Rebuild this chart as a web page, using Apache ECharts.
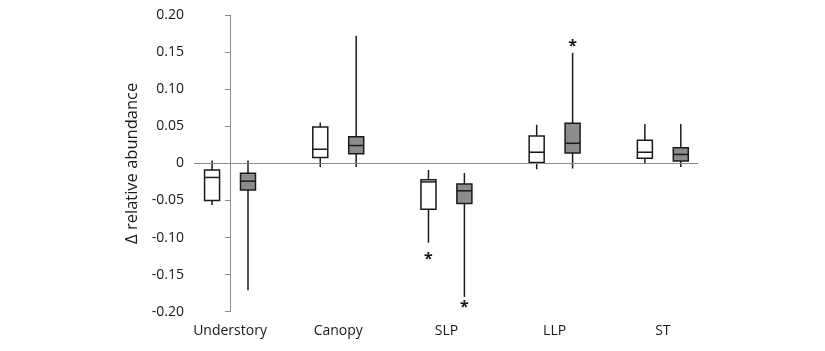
<!DOCTYPE html>
<html>
<head>
<meta charset="utf-8">
<script src="https://cdn.jsdelivr.net/npm/echarts@6/dist/echarts.min.js"></script>
<style>
  html, body { margin: 0; padding: 0; background: #fff; }
  #chart { width: 825px; height: 351px; }
</style>
</head>
<body>
<div id="chart"></div>
<script>
// ---- data ----
const categories = ['Understory', 'Canopy', 'SLP', 'LLP', 'ST'];
// [low whisker, Q1, median, Q3, high whisker]
const whiteBoxes = [
  [-0.056, -0.050, -0.019, -0.009, 0.004],
  [-0.005, 0.008, 0.019, 0.049, 0.055],
  [-0.107, -0.062, -0.025, -0.022, -0.009],
  [-0.008, 0.001, 0.015, 0.037, 0.052],
  [0.000, 0.007, 0.015, 0.031, 0.053]
];
const grayBoxes = [
  [-0.171, -0.036, -0.024, -0.0135, 0.004],
  [-0.005, 0.013, 0.024, 0.036, 0.172],
  [-0.180, -0.054, -0.037, -0.028, -0.013],
  [-0.007, 0.014, 0.027, 0.054, 0.149],
  [-0.005, 0.003, 0.012, 0.021, 0.053]
];
// [category index, value]
const whiteOutliers = [[2, -0.125]];
const grayOutliers = [[2, -0.190], [3, 0.162]];
const yTicks = [-0.20, -0.15, -0.10, -0.05, 0, 0.05, 0.10, 0.15, 0.20];

// ---- chart ----
const FONT = "'Open Sans', 'Noto Sans', sans-serif";
const TEXT = '#1a1718';
const AXIS = '#8a8a8a';
const GROUP_OFFSET = 0.166;
const HALF_W = 7.5;

function boxRenderer(offset, fill) {
  return function (params, api) {
    const c = api.value(0) + offset;
    const lo = api.coord([c, api.value(1)]);
    const q1 = api.coord([c, api.value(2)]);
    const md = api.coord([c, api.value(3)]);
    const q3 = api.coord([c, api.value(4)]);
    const hi = api.coord([c, api.value(5)]);
    const x = lo[0];
    const stroke = { stroke: '#1a1a1a', lineWidth: 1.5 };
    return {
      type: 'group',
      children: [
        { type: 'line', shape: { x1: x, y1: lo[1], x2: x, y2: q1[1] }, style: stroke },
        { type: 'line', shape: { x1: x, y1: q3[1], x2: x, y2: hi[1] }, style: stroke },
        { type: 'rect', shape: { x: x - HALF_W, y: q3[1], width: HALF_W * 2, height: q1[1] - q3[1] },
          style: { fill: fill, stroke: '#1a1a1a', lineWidth: 1.5 } },
        { type: 'line', shape: { x1: x - HALF_W, y1: md[1], x2: x + HALF_W, y2: md[1] }, style: stroke }
      ]
    };
  };
}

function starRenderer(offset) {
  return function (params, api) {
    const p = api.coord([api.value(0) + offset, api.value(1)]);
    return {
      type: 'text',
      x: p[0],
      y: p[1] + 3,
      style: { text: '*', font: "bold 16px " + FONT, fill: TEXT, align: 'center', verticalAlign: 'middle' }
    };
  };
}

const chart = echarts.init(document.getElementById('chart'), null, { renderer: 'canvas' });
chart.setOption({
  animation: false,
  backgroundColor: '#fff',
  grid: { left: 194, right: 127, top: 15, bottom: 39.3, containLabel: false },
  xAxis: {
    type: 'value',
    min: -0.333,
    max: 4.325,
    splitLine: { show: false },
    axisLine: { show: false, onZero: false },
    axisTick: { show: false },
    axisLabel: {
      customValues: [0, 1, 2, 3, 4],
      formatter: v => categories[Math.round(v)],
      color: TEXT, fontFamily: FONT, fontSize: 14, margin: 12
    }
  },
  yAxis: {
    type: 'value',
    min: -0.2,
    max: 0.2,
    interval: 0.05,
    name: 'Δ relative abundance',
    nameLocation: 'middle',
    nameRotate: 90,
    nameGap: 50,
    nameTextStyle: { color: TEXT, fontFamily: FONT, fontSize: 16.5 },
    splitLine: { show: false },
    axisLine: { show: true, lineStyle: { color: AXIS, width: 1 } },
    axisTick: { show: true, length: 5, lineStyle: { color: AXIS, width: 1 } },
    axisLabel: {
      color: TEXT, fontFamily: FONT, fontSize: 14, margin: 10,
      formatter: v => {
        const t = yTicks.find(k => Math.abs(k - v) < 1e-9);
        const val = t === undefined ? v : t;
        return Math.abs(val) < 1e-9 ? '0' : val.toFixed(2);
      }
    }
  },
  series: [
    {
      type: 'line',
      data: [],
      silent: true,
      markLine: {
        silent: true,
        symbol: 'none',
        label: { show: false },
        lineStyle: { color: AXIS, width: 1, type: 'solid' },
        data: [{ yAxis: 0 }]
      }
    },
    {
      type: 'custom',
      renderItem: boxRenderer(-GROUP_OFFSET, '#ffffff'),
      encode: { x: 0, y: [1, 2, 3, 4, 5] },
      data: whiteBoxes.map((b, i) => [i].concat(b)),
      z: 3
    },
    {
      type: 'custom',
      renderItem: boxRenderer(GROUP_OFFSET, '#8c8c8c'),
      encode: { x: 0, y: [1, 2, 3, 4, 5] },
      data: grayBoxes.map((b, i) => [i].concat(b)),
      z: 3
    },
    {
      type: 'custom',
      renderItem: starRenderer(-GROUP_OFFSET),
      encode: { x: 0, y: 1 },
      data: whiteOutliers,
      z: 4
    },
    {
      type: 'custom',
      renderItem: starRenderer(GROUP_OFFSET),
      encode: { x: 0, y: 1 },
      data: grayOutliers,
      z: 4
    }
  ]
});
</script>
</body>
</html>
